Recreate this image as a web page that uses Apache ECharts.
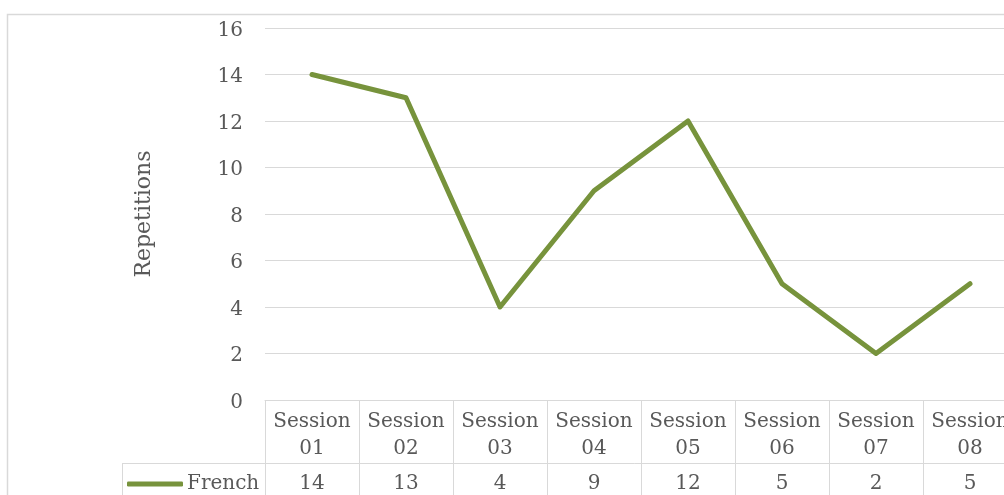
<!DOCTYPE html>
<html>
<head>
<meta charset="utf-8">
<script src="https://cdn.jsdelivr.net/npm/echarts@6/dist/echarts.min.js"></script>
<style>html,body{margin:0;padding:0;background:#fff}#c{width:1004px;height:495px}</style>
</head>
<body>
<div id="c"></div>
<script>
const categories = ['Session 01','Session 02','Session 03','Session 04','Session 05','Session 06','Session 07','Session 08'];
const french = [14, 13, 4, 9, 12, 5, 2, 5];
const seriesName = 'French';
const yAxisName = 'Repetitions';

const FONT = 'DejaVu Serif';
const TXT = '#595959';
const GRID = '#d9d9d9';
const GREEN = '#77933c';

const chart = echarts.init(document.getElementById('c'));
chart.setOption({
  animation: false,
  backgroundColor: '#fff',
  textStyle: { fontFamily: FONT },
  grid: { left: 265, width: 752, top: 28, height: 372, containLabel: false, outerBoundsMode: 'none' },
  legend: {
    data: [seriesName],
    left: 122, top: 469,
    icon: 'roundRect',
    itemWidth: 56, itemHeight: 5,
    itemGap: 0,
    textStyle: { fontFamily: FONT, fontSize: 20, color: TXT, padding: [0, 0, 0, -1] }
  },
  xAxis: [{
    type: 'category',
    data: categories,
    boundaryGap: true,
    axisLine: { show: true, lineStyle: { color: GRID, width: 1 } },
    axisTick: { show: true, interval: 0, length: 120, lineStyle: { color: GRID, width: 1 } },
    axisLabel: {
      interval: 0, margin: 8, color: TXT, fontFamily: FONT, fontSize: 20, lineHeight: 27,
      formatter: v => v.replace(' ', '\n')
    },
    splitLine: { show: false }
  }, {
    type: 'category',
    data: french.map(String),
    position: 'bottom',
    offset: 63,
    boundaryGap: true,
    axisLine: { show: true, lineStyle: { color: GRID, width: 1 } },
    axisTick: { show: false },
    axisLabel: { interval: 0, margin: 11, color: TXT, fontFamily: FONT, fontSize: 20 }
  }],
  yAxis: {
    type: 'value', min: 0, max: 16, interval: 2,
    name: yAxisName, nameLocation: 'middle', nameGap: 110, nameRotate: 90,
    nameTextStyle: { color: TXT, fontFamily: FONT, fontSize: 22 },
    axisLine: { show: false }, axisTick: { show: false },
    axisLabel: {
      margin: 22, color: TXT, fontFamily: FONT, fontSize: 20,
      formatter: v => '{a|' + v + '}',
      rich: { a: { fontFamily: FONT, fontSize: 20, color: TXT, lineHeight: 20, padding: [5, 0, 0, 0] } }
    },
    splitLine: { lineStyle: { color: GRID, width: 1 } }
  },
  graphic: [
    { type: 'rect', silent: true, shape: { x: 7.5, y: 14.5, width: 1200, height: 600 },
      style: { fill: 'none', stroke: GRID, lineWidth: 1.5 }, z: -1 },
    { type: 'line', silent: true, shape: { x1: 122, y1: 463.5, x2: 266, y2: 463.5 },
      style: { stroke: GRID, lineWidth: 1 } },
    { type: 'line', silent: true, shape: { x1: 122.5, y1: 463, x2: 122.5, y2: 600 },
      style: { stroke: GRID, lineWidth: 1 } }
  ],
  series: [{
    name: seriesName,
    type: 'line',
    data: french,
    xAxisIndex: 0,
    symbol: 'none',
    lineStyle: { color: GREEN, width: 5, cap: 'round', join: 'round' },
    itemStyle: { color: GREEN }
  }]
});
</script>
</body>
</html>
